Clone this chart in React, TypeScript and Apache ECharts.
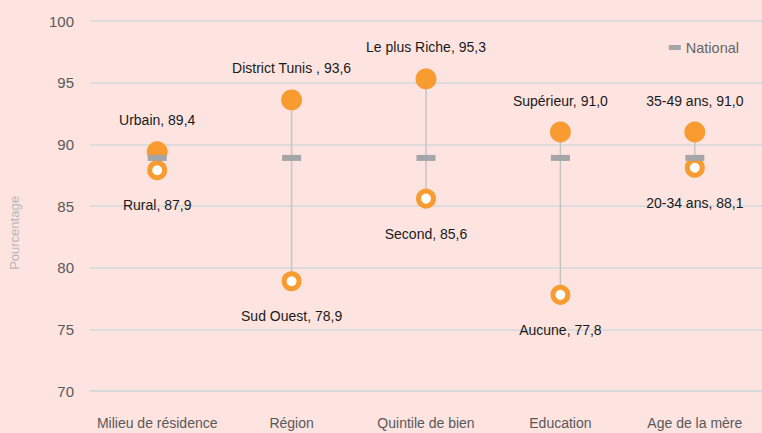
import React, { useEffect, useRef } from "react";
import * as echarts from "echarts";

const categories = ["Milieu de résidence", "Région", "Quintile de bien", "Education", "Age de la mère"];
const highValues = [89.4, 93.6, 95.3, 91.0, 91.0];
const highNames = ["Urbain, 89,4", "District Tunis , 93,6", "Le plus Riche, 95,3", "Supérieur, 91,0", "35-49 ans, 91,0"];
const lowValues = [87.9, 78.9, 85.6, 77.8, 88.1];
const lowNames = ["Rural, 87,9", "Sud Ouest, 78,9", "Second, 85,6", "Aucune, 77,8", "20-34 ans, 88,1"];
const nationalValues = [88.9, 88.9, 88.9, 88.9, 88.9];
const yTicks = { min: 70, max: 100, interval: 5 };

const ORANGE = "#f89b31";
const TEXT_FONT = "'Liberation Sans', Arial, sans-serif";

export default function App() {
  const ref = useRef<HTMLDivElement>(null);
  useEffect(() => {
    if (!ref.current) return;
    const chart = echarts.init(ref.current, undefined, { renderer: "svg" });
    chart.setOption({
      animation: false,
      backgroundColor: "#fde4e1",
      grid: { left: 90, right: 0, top: 21, bottom: 42 },
      legend: {
        data: [{ name: "National", icon: "rect" }],
        right: 18,
        top: 35,
        itemWidth: 12,
        itemHeight: 5,
        itemGap: 3,
        textStyle: { color: "#666", fontSize: 14.5, fontFamily: TEXT_FONT },
      },
      graphic: [
        {
          type: "text",
          x: 8,
          y: 233,
          rotation: Math.PI / 2,
          style: {
            text: "Pourcentage",
            fill: "#b8b8b8",
            fontSize: 13,
            fontFamily: TEXT_FONT,
            align: "center",
            verticalAlign: "top",
          },
        },
      ],
      xAxis: {
        type: "category",
        data: categories,
        axisLine: { show: true, lineStyle: { color: "#d3d8da", width: 1.5 } },
        axisTick: { show: false },
        axisLabel: { color: "#595959", fontSize: 14, margin: 25, interval: 0, fontFamily: TEXT_FONT },
      },
      yAxis: {
        type: "value",
        min: yTicks.min,
        max: yTicks.max,
        interval: yTicks.interval,
        axisLine: { show: false },
        axisTick: { show: false },
        splitLine: { lineStyle: { color: "#d3d8da", width: 1.5 } },
        axisLabel: { color: "#595959", fontSize: 15, margin: 16, fontFamily: TEXT_FONT },
      },
      series: [
        {
          type: "custom",
          z: 1,
          data: categories.map((c, i) => [i, lowValues[i], highValues[i]]),
          renderItem: (params: any, api: any) => {
            const p1 = api.coord([api.value(0), api.value(1)]);
            const p2 = api.coord([api.value(0), api.value(2)]);
            return {
              type: "line",
              shape: { x1: p1[0], y1: p1[1], x2: p2[0], y2: p2[1] },
              style: { stroke: "#c4c4c4", lineWidth: 1.5 },
            };
          },
          silent: true,
        },
        {
          name: "Haut",
          type: "scatter",
          z: 3,
          symbol: "circle",
          symbolSize: 21,
          itemStyle: { color: ORANGE, opacity: 1 },
          data: highValues.map((v, i) => ({ value: [i, v], name: highNames[i] })),
          label: {
            show: true,
            position: "top",
            distance: 14,
            formatter: (p: any) => p.name,
            color: "#1a1a1a",
            fontSize: 14,
            fontWeight: "normal",
            fontFamily: TEXT_FONT,
          },
        },
        {
          name: "Bas",
          type: "scatter",
          z: 3,
          symbol: "circle",
          symbolSize: 15,
          itemStyle: { color: "#ffffff", borderColor: ORANGE, borderWidth: 5, opacity: 1 },
          data: lowValues.map((v, i) => ({ value: [i, v], name: lowNames[i] })),
          label: {
            show: true,
            position: "bottom",
            distance: 18,
            formatter: (p: any) => p.name,
            color: "#1a1a1a",
            fontSize: 14,
            fontWeight: "normal",
            fontFamily: TEXT_FONT,
          },
        },
        {
          name: "National",
          type: "scatter",
          z: 4,
          symbol: "rect",
          symbolSize: [19, 6],
          itemStyle: { color: "#a3a5a8", opacity: 1 },
          data: nationalValues.map((v, i) => [i, v]),
        },
      ],
    });
    return () => chart.dispose();
  }, []);
  return <div ref={ref} style={{ width: 762, height: 433, position: "absolute", left: 0, top: 0 }} />;
}
